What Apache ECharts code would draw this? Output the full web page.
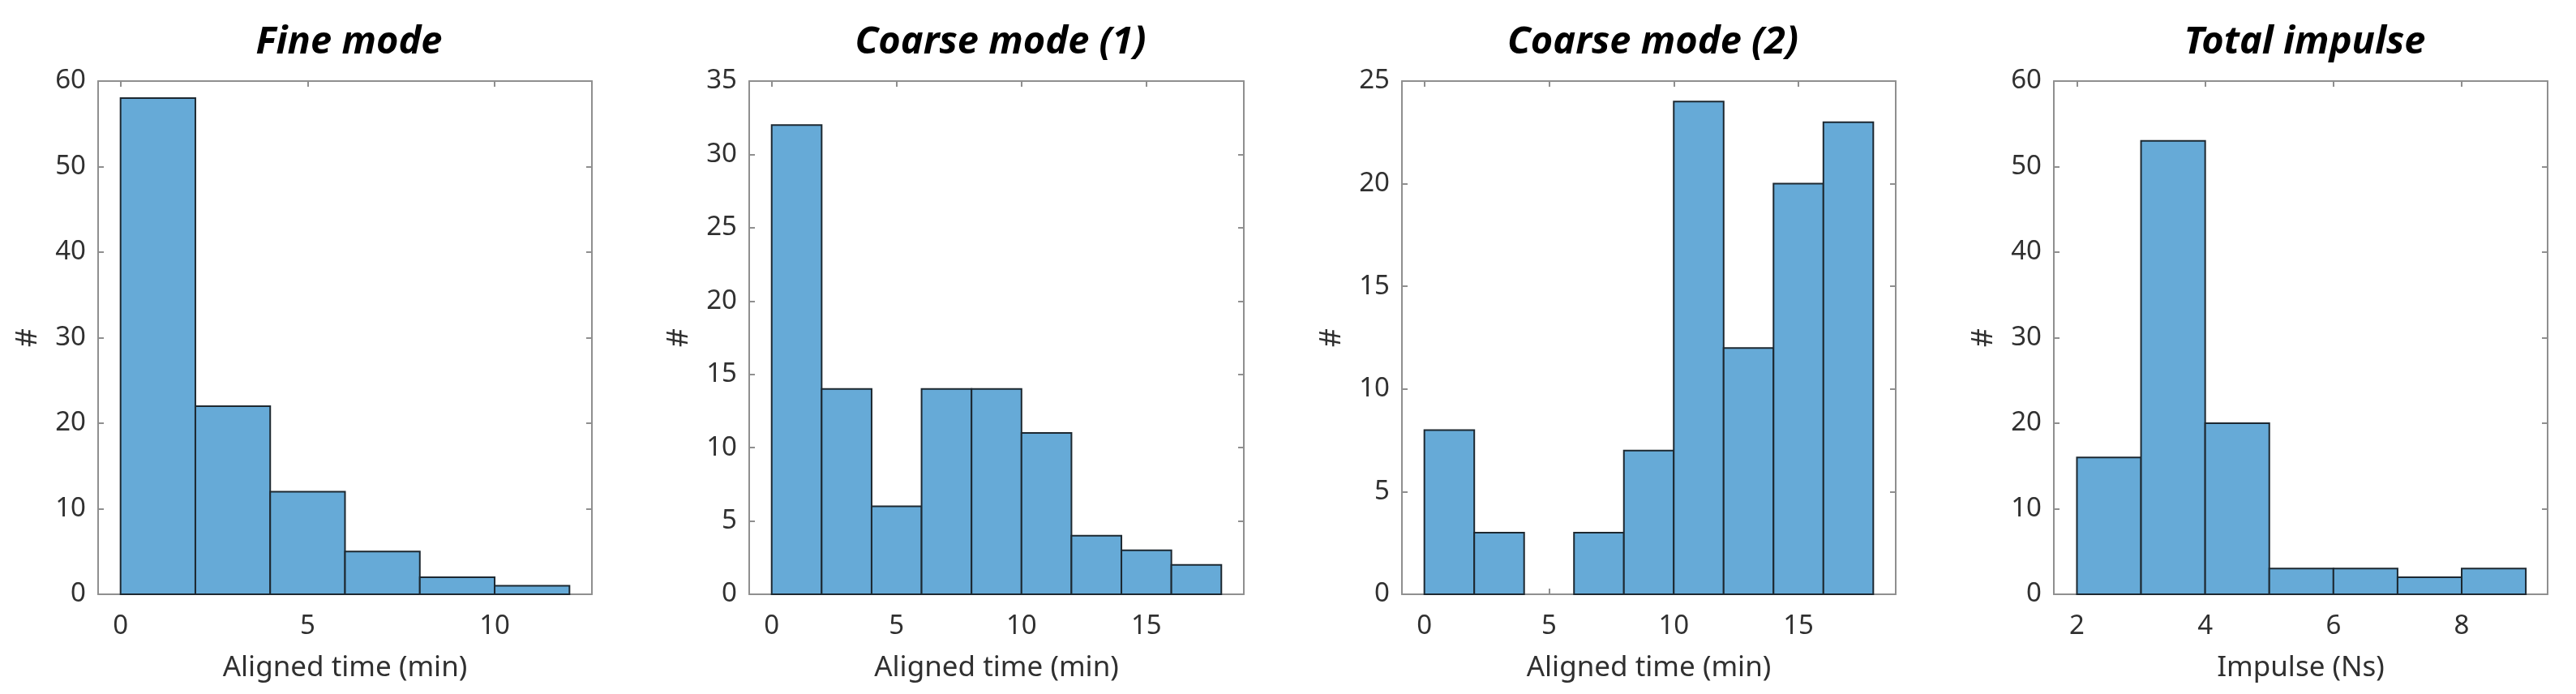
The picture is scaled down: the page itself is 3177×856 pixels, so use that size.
<!DOCTYPE html>
<html><head><meta charset="utf-8">
<script src="https://cdn.jsdelivr.net/npm/echarts@6/dist/echarts.min.js"></script>
<style>html,body{margin:0;padding:0;background:#fff}#c{width:3177px;height:856px}</style>
</head><body><div id="c"></div>
<script>
// ---- data ----
const titles = ['Fine mode', 'Coarse mode (1)', 'Coarse mode (2)', 'Total impulse'];
const xNames = ['Aligned time (min)', 'Aligned time (min)', 'Aligned time (min)', 'Impulse (Ns)'];
const yName = '#';
const fineEdges = [0, 2, 4, 6, 8, 10, 12];
const fineCounts = [58, 22, 12, 5, 2, 1];
const coarse1Edges = [0, 2, 4, 6, 8, 10, 12, 14, 16, 18];
const coarse1Counts = [32, 14, 6, 14, 14, 11, 4, 3, 2];
const coarse2Edges = [0, 2, 4, 6, 8, 10, 12, 14, 16, 18];
const coarse2Counts = [8, 3, 0, 3, 7, 24, 12, 20, 23];
const impulseEdges = [2, 3, 4, 5, 6, 7, 8, 9];
const impulseCounts = [16, 53, 20, 3, 3, 2, 3];
const xTickValues = [[0, 5, 10], [0, 5, 10, 15], [0, 5, 10, 15], [2, 4, 6, 8]];
const xLimits = [[-0.6, 12.6], [-0.9, 18.9], [-0.9, 18.9], [1.64, 9.34]];
const yMax = [60, 35, 25, 60];
const yStep = [10, 5, 5, 10];

const edgesList = [fineEdges, coarse1Edges, coarse2Edges, impulseEdges];
const countsList = [fineCounts, coarse1Counts, coarse2Counts, impulseCounts];

// ---- layout ----
const gridLefts = [121, 924, 1729, 2533];
const gridWidths = [609, 610, 609, 609];
const gridTop = 100, gridHeight = 633;
const FONT = '"Noto Sans", "Open Sans", sans-serif';
const axisColor = '#8f8f8f';
const textColor = '#303030';

const grid = [], xAxis = [], yAxis = [], series = [], title = [];
for (let i = 0; i < 4; i++) {
  grid.push({left: gridLefts[i], top: gridTop, width: gridWidths[i], height: gridHeight});
  title.push({
    text: titles[i], left: gridLefts[i] + gridWidths[i] / 2, top: 24, textAlign: 'center',
    textStyle: {fontFamily: FONT, fontSize: 47, fontWeight: 'bold', fontStyle: 'italic', color: '#000'}
  });
  const lineStyle = {color: axisColor, width: 2};
  const tickStyle = {color: axisColor, width: 2};
  // bottom x
  xAxis.push({
    type: 'value', gridIndex: i, position: 'bottom', min: xLimits[i][0], max: xLimits[i][1],
    name: xNames[i], nameLocation: 'middle', nameGap: 74,
    nameTextStyle: {fontFamily: FONT, fontSize: 35, color: textColor},
    axisLine: {show: true, onZero: false, lineStyle},
    axisTick: {show: true, inside: true, length: 7, lineStyle: tickStyle, customValues: xTickValues[i]},
    axisLabel: {show: true, customValues: xTickValues[i], margin: 23, fontFamily: FONT, fontSize: 33, color: textColor},
    splitLine: {show: false}
  });
  // top x (box)
  xAxis.push({
    type: 'value', gridIndex: i, position: 'top', min: xLimits[i][0], max: xLimits[i][1],
    axisLine: {show: true, onZero: false, lineStyle},
    axisTick: {show: true, inside: true, length: 7, lineStyle: tickStyle, customValues: xTickValues[i]},
    axisLabel: {show: false}, splitLine: {show: false}
  });
  // left y
  yAxis.push({
    type: 'value', gridIndex: i, position: 'left', min: 0, max: yMax[i], interval: yStep[i],
    name: yName, nameLocation: 'middle', nameGap: 68, nameRotate: 90,
    nameTextStyle: {fontFamily: FONT, fontSize: 36, color: textColor},
    axisLine: {show: true, onZero: false, lineStyle},
    axisTick: {show: true, inside: true, length: 7, lineStyle: tickStyle},
    axisLabel: {show: true, margin: 15, fontFamily: FONT, fontSize: 33, color: textColor},
    splitLine: {show: false}
  });
  // right y (box)
  yAxis.push({
    type: 'value', gridIndex: i, position: 'right', min: 0, max: yMax[i], interval: yStep[i],
    axisLine: {show: true, onZero: false, lineStyle},
    axisTick: {show: true, inside: true, length: 7, lineStyle: tickStyle},
    axisLabel: {show: false}, splitLine: {show: false}
  });
  const edges = edgesList[i], counts = countsList[i];
  const data = counts.map((c, k) => [edges[k], edges[k + 1], c]);
  series.push({
    type: 'custom', xAxisIndex: 2 * i, yAxisIndex: 2 * i,
    encode: {x: [0, 1], y: 2},
    data,
    renderItem: function (params, api) {
      const x0 = api.value(0), x1 = api.value(1), y = api.value(2);
      if (!y) return null;
      const p0 = api.coord([x0, y]);
      const p1 = api.coord([x1, 0]);
      return {
        type: 'rect',
        shape: {x: p0[0], y: p0[1], width: p1[0] - p0[0], height: p1[1] - p0[1]},
        style: {fill: '#66aad7', stroke: '#1d2830', lineWidth: 2}
      };
    }
  });
}

const chart = echarts.init(document.getElementById('c'), null, {renderer: 'canvas'});
chart.setOption({backgroundColor: '#fff', animation: false, title, grid, xAxis, yAxis, series});
</script>
</body></html>
